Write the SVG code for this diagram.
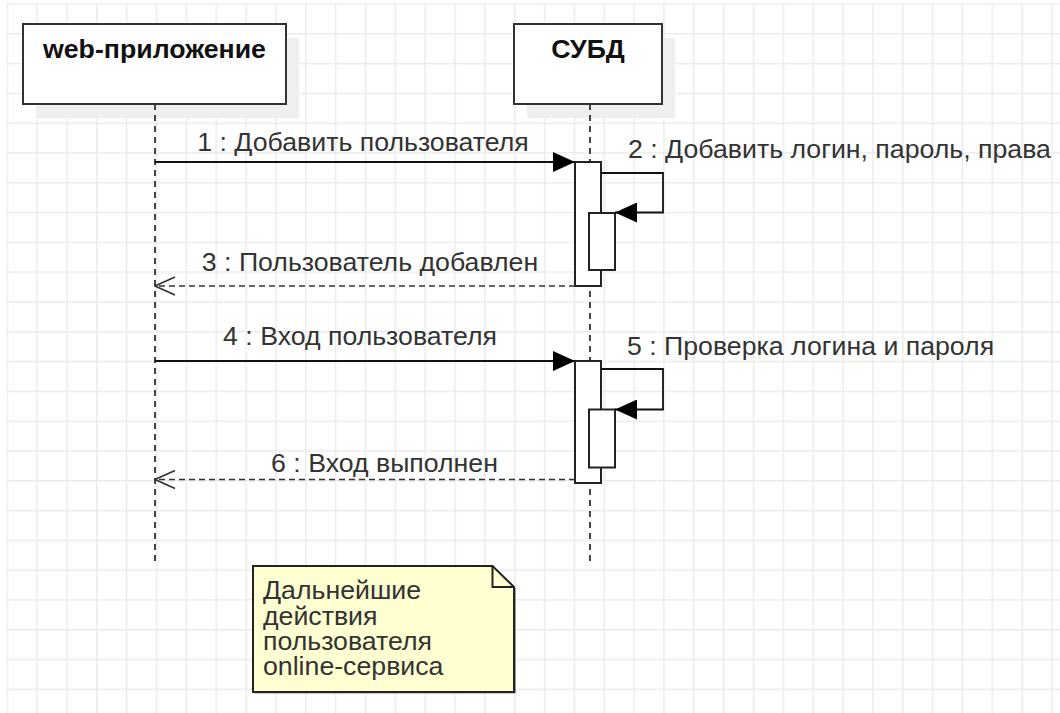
<svg xmlns="http://www.w3.org/2000/svg" width="1060" height="713" viewBox="0 0 1060 713">
  <style>
    .lbl { font-family: "Liberation Sans", Arial, sans-serif; font-size: 26.7px; fill: #333; }
    .title { font-family: "Liberation Sans", Arial, sans-serif; font-size: 26.7px; font-weight: bold; fill: #111; text-anchor: middle; }
    .box { fill: #fff; stroke: #333; stroke-width: 2; }
    .shadow { fill: #efefef; }
    .life { stroke: #444; stroke-width: 2; stroke-dasharray: 6 5; fill: none; }
    .msg { stroke: #111; stroke-width: 1.8; fill: none; }
    .ret { stroke: #333; stroke-width: 1.6; stroke-dasharray: 6 4; fill: none; }
    .act { fill: #fff; stroke: #222; stroke-width: 2; }
  </style>
  <defs>
    <pattern id="grid" patternUnits="userSpaceOnUse" x="6.5" y="3.2" width="29.85" height="29.8">
      <rect x="0" y="0" width="1.5" height="29.8" fill="#ebebeb"/>
      <rect x="0" y="0" width="29.85" height="1.5" fill="#ebebeb"/>
    </pattern>
    <marker id="fill" markerUnits="userSpaceOnUse" viewBox="0 0 22 20" refX="22" refY="10" markerWidth="22" markerHeight="20" orient="auto">
      <path d="M0,0 L22,10 L0,20 z" fill="#000"/>
    </marker>
    <marker id="open" markerUnits="userSpaceOnUse" viewBox="0 0 22 22" refX="21" refY="11" markerWidth="22" markerHeight="22" orient="auto">
      <path d="M1,2 L21,11 L1,20" fill="none" stroke="#333" stroke-width="1.6"/>
    </marker>
  </defs>

  <rect x="0" y="0" width="1060" height="713" fill="#fff"/>
  <rect x="6.5" y="3.2" width="1053.5" height="709.8" fill="url(#grid)"/>

  <g id="lifeline-web">
    <rect class="shadow" x="36" y="38" width="263" height="80"/>
    <line class="life" x1="155" y1="104" x2="155" y2="566"/>
    <rect class="box" x="23" y="24" width="263" height="80"/>
    <text class="title" x="154.5" y="58">web-приложение</text>
  </g>

  <g id="lifeline-dbms">
    <rect class="shadow" x="527" y="38" width="148" height="80"/>
    <line class="life" x1="590" y1="104" x2="590" y2="566"/>
    <rect class="box" x="514" y="24" width="148" height="80"/>
    <text class="title" x="588" y="58">СУБД</text>
  </g>

  <g id="activation-1">
    <rect class="act" x="575" y="162" width="26" height="124"/>
  </g>
  <g id="activation-1b">
    <rect class="act" x="589" y="213" width="26" height="57"/>
  </g>
  <g id="activation-2">
    <rect class="act" x="575" y="361" width="26" height="122"/>
  </g>
  <g id="activation-2b">
    <rect class="act" x="589" y="409.5" width="26" height="58"/>
  </g>

  <g id="note">
    <path d="M254.5,567.5 H494 L516,588.5 V693.5 H254.5 Z" fill="#999"/>
    <path d="M253,566 H492.5 L514,587 V692 H253 Z" fill="#ffffd2" stroke="#222" stroke-width="2"/>
    <path d="M492.5,566 V587 H514" fill="none" stroke="#222" stroke-width="2"/>
    <text class="lbl" x="263" y="599.3"><tspan x="263">Дальнейшие</tspan><tspan x="263" dy="25.3">действия</tspan><tspan x="263" dy="25.3">пользователя</tspan><tspan x="263" dy="25.3">online-сервиса</tspan></text>
  </g>

  <g id="connectors">
    <line class="msg" x1="155" y1="162" x2="575" y2="162" marker-end="url(#fill)"/>
    <text class="lbl" x="363" y="151" text-anchor="middle">1 : Добавить пользователя</text>

    <path class="msg" d="M601,173 H663 V212.5 H615" marker-end="url(#fill)"/>
    <text class="lbl" x="628" y="158">2 : Добавить логин, пароль, права</text>

    <line class="ret" x1="575" y1="286" x2="155" y2="286" marker-end="url(#open)"/>
    <text class="lbl" x="370" y="271" text-anchor="middle">3 : Пользователь добавлен</text>

    <line class="msg" x1="155" y1="361" x2="575" y2="361" marker-end="url(#fill)"/>
    <text class="lbl" x="360" y="345" text-anchor="middle">4 : Вход пользователя</text>

    <path class="msg" d="M601,369 H663 V409.5 H615" marker-end="url(#fill)"/>
    <text class="lbl" x="627" y="355">5 : Проверка логина и пароля</text>

    <line class="ret" x1="575" y1="479.5" x2="155" y2="479.5" marker-end="url(#open)"/>
    <text class="lbl" x="384.5" y="471.5" text-anchor="middle">6 : Вход выполнен</text>
  </g>
</svg>
